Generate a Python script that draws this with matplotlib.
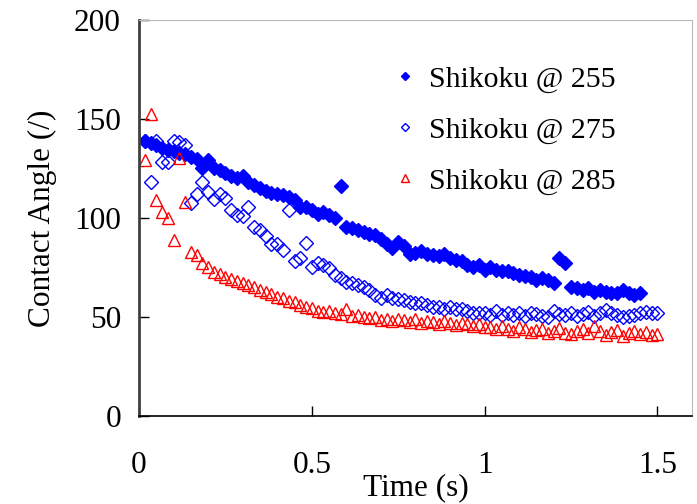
import numpy as np
import matplotlib
matplotlib.use('Agg')
import matplotlib.pyplot as plt

plt.rcParams['font.family'] = ['Liberation Serif', 'DejaVu Serif']

# frame interval 1/60 s
FPS = 60

# Shikoku @ 255 (filled diamonds)
ca_255 = [139, 137.7, 136.5, 135, 134, 133.5, 132.5, 132, 130.6, 129.6,
          125, 129.3, 125, 124, 122.7, 121, 120, 121, 118, 116.5,
          115, 113.5, 112.5, 112, 111.5, 110.5, 109, 105.7, 105.7, 104,
          102, 103, 101.5, 100, 116, 95.6, 94.8, 94, 93, 92,
          91.4, 89.5, 87, 85, 88, 86, 81.5, 82.5, 83.5, 81.5,
          81, 80.5, 81.5, 79.6, 78.8, 78, 76, 75.4, 76, 73.5,
          75.4, 73.7, 73, 73, 72, 71, 70.4, 70, 68.7, 69.5,
          68.7, 67, 79.6, 77, 65.3, 64.5, 63.6, 64.5, 62.8, 63.6,
          62.8, 62, 62, 63.6, 62, 61, 62.3]

# Shikoku @ 275 (open diamonds)
ca_275 = [139, 118, 139, 128.4, 128, 139, 138.5, 137, 107.4, 112,
          118, 113, 109.6, 112, 110, 104, 101.5, 100.7, 105.7, 95.6,
          94, 91, 87, 87, 84, 104, 78, 79.6, 87.5, 75,
          77, 76, 74.6, 71, 69.5, 67.8, 67, 66, 65, 63.6,
          61, 59.4, 61, 59.4, 59, 58.6, 57.7, 57, 57, 56,
          55, 55, 54, 55, 54, 54, 53, 52, 52, 52,
          51, 53, 51, 52, 51, 52, 50.5, 52, 51.5, 50.5,
          50, 53, 51.5, 51, 52, 50.5, 51.5, 52.5, 50.5, 52,
          53.5, 52, 51, 50, 50.5, 51, 52, 52.5, 52, 52]

# Shikoku @ 285 (open triangles)
ca_285 = [129, 152.5, 109, 103, 100, 89, 130, 108, 83, 81,
          77, 75, 72.5, 71.5, 70, 69, 68, 67, 66, 65,
          63.6, 62.5, 61.5, 60, 59.5, 58, 57.5, 56, 55, 54.5,
          53, 52.5, 53, 52, 51.5, 54, 50.5, 51, 50, 49.5,
          50, 48.5, 49, 48, 49, 48.5, 47.5, 49, 47, 48,
          47.5, 46.5, 48, 47, 46, 47, 46.5, 45.5, 46.5, 45,
          45, 44, 45.5, 44, 43, 45, 44, 42.5, 43.5, 44,
          42, 43, 44.5, 42, 41.5, 43, 44, 42, 45.5, 43,
          41, 42.5, 43.5, 40.5, 42, 43, 41.5, 42.5, 41, 41.5]

t_255 = np.arange(1, len(ca_255) + 1) / FPS
t_275 = np.arange(1, len(ca_275) + 1) / FPS
t_285 = np.arange(1, len(ca_285) + 1) / FPS

fig = plt.figure(figsize=(6.97, 5.04), dpi=100)
ax = fig.add_axes([0.1994, 0.1746, 0.7934, 0.7864])

ax.plot(t_255, ca_255, linestyle='none', marker='D', ms=7.5, mfc='#0000FF',
        mec='#0000FF', mew=1, label='Shikoku @ 255')
ax.plot(t_275, ca_275, linestyle='none', marker='D', ms=7, mfc='none',
        mec='#0000FF', mew=1, label='Shikoku @ 275')
ax.plot(t_285, ca_285, linestyle='none', marker='^', ms=8.5, mfc='none',
        mec='#FF0000', mew=1, label='Shikoku @ 285')

ax.set_xlim(0, 1.6)
ax.set_ylim(0, 200)
ax.set_xticks([0, 0.5, 1, 1.5])
ax.set_xticklabels(['0', '0.5', '1', '1.5'])
ax.set_yticks([0, 50, 100, 150, 200])

ax.tick_params(direction='in', length=7, width=1, labelsize=22.5)
ax.tick_params(axis='y', pad=13)
ax.tick_params(axis='x', pad=25)

ax.spines['left'].set_color('#404040')
ax.spines['left'].set_linewidth(2)
ax.spines['bottom'].set_color('black')
ax.spines['bottom'].set_linewidth(1.2)
ax.spines['top'].set_color('#b8b8b8')
ax.spines['right'].set_color('#b8b8b8')

ax.set_xlabel('Time (s)', fontsize=22.5, labelpad=-5)
ax.set_ylabel('Contact Angle (/)', fontsize=22.5, labelpad=12)

leg = ax.legend(loc='upper right', bbox_to_anchor=(0.91, 0.952), frameon=False,
                fontsize=21.5, markerscale=0.6, handlelength=0.6,
                handletextpad=0.5, labelspacing=0.8)

fig.savefig('out.png', dpi=100)
